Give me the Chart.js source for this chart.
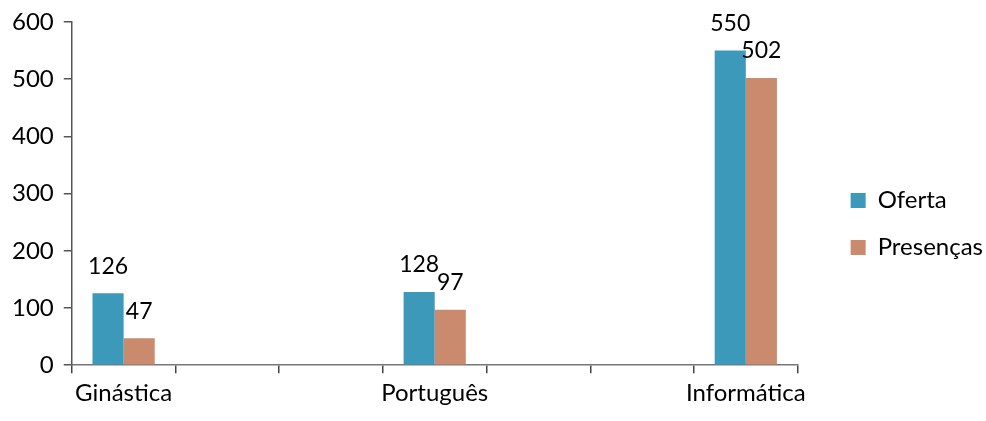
<!DOCTYPE html>
<html>
<head>
<meta charset="utf-8">
<script src="https://cdn.jsdelivr.net/npm/chart.js@4"></script>
<style>
  html, body { margin: 0; padding: 0; background: #fff; }
  #wrap { width: 986px; height: 421px; }
</style>
</head>
<body>
<div id="wrap"><canvas id="myChart"></canvas></div>
<script>
// 7 slots on the category axis, only three of them are labelled
const categories = ["Ginástica", "", "", "Português", "", "", "Informática"];
const oferta = [126, null, null, 128, null, null, 550];
const presencas = [47, null, null, 97, null, null, 502];
const yTicks = [0, 100, 200, 300, 400, 500, 600];

const FONT = "Lato, 'Open Sans', sans-serif";
const LEGEND_GAP = 23;
const LEGEND_SHIFT = 30;
const LEGEND_DROP = 17;

// value labels above each bar
const barLabels = {
    id: 'barLabels',
    afterDatasetsDraw(chart) {
        const ctx = chart.ctx;
        ctx.save();
        ctx.font = "23px " + FONT;
        ctx.fillStyle = "#000";
        ctx.textAlign = "center";
        ctx.textBaseline = "middle";
        chart.data.datasets.forEach((ds, i) => {
            chart.getDatasetMeta(i).data.forEach((bar, j) => {
                if (ds.data[j] == null) return;
                ctx.fillText(ds.data[j], bar.x, bar.y - 27);
            });
        });
        ctx.restore();
    }
};

// leave some white space between the plot and the legend
const legendGap = {
    id: 'legendGap',
    beforeInit(chart) {
        const fit = chart.legend.fit;
        chart.legend.fit = function() {
            fit.call(this);
            this.width += LEGEND_GAP;
        };
    },
    afterLayout(chart) {
        chart.legend.left += LEGEND_SHIFT;
        chart.legend.top += LEGEND_DROP;
        chart.legend.bottom += LEGEND_DROP;
    }
};

const ctx = document.getElementById('myChart').getContext('2d');
const myChart = new Chart(ctx, {
    type: 'bar',
    data: {
        labels: categories,
        datasets: [{
            label: 'Oferta',
            data: oferta,
            backgroundColor: 'rgb(60, 153, 186)'
        }, {
            label: 'Presenças',
            data: presencas,
            backgroundColor: 'rgb(201, 138, 110)'
        }]
    },
    plugins: [barLabels, legendGap],
    options: {
        responsive: true,
        maintainAspectRatio: false,
        animation: false,
        layout: {
            padding: { top: 0, left: 2, right: 0, bottom: 7 }
        },
        datasets: {
            bar: { categoryPercentage: 0.6, barPercentage: 1.0, skipNull: false }
        },
        scales: {
            x: {
                grid: { offset: true, drawOnChartArea: false, tickLength: 8, tickColor: '#444', tickWidth: 1.5, color: '#555', lineWidth: 1.5 },
                border: { color: '#777', width: 1.5 },
                ticks: { font: { family: FONT, size: 24 }, color: '#000', padding: 6, autoSkip: false, maxRotation: 0 }
            },
            y: {
                min: 0,
                max: 600,
                afterBuildTicks: axis => { axis.ticks = yTicks.map(v => ({ value: v })); },
                grid: { drawOnChartArea: false, tickLength: 8, color: '#555', lineWidth: 1.5 },
                border: { color: '#555', width: 1.5 },
                ticks: { font: { family: FONT, size: 24, lineHeight: 1.0 }, color: '#000', padding: 10 }
            }
        },
        plugins: {
            legend: {
                position: 'right',
                labels: {
                    font: { family: FONT, size: 24 },
                    color: '#000',
                    boxWidth: 15,
                    boxHeight: 15,
                    padding: 23
                }
            },
            tooltip: { enabled: false }
        }
    }
});
</script>
</body>
</html>
